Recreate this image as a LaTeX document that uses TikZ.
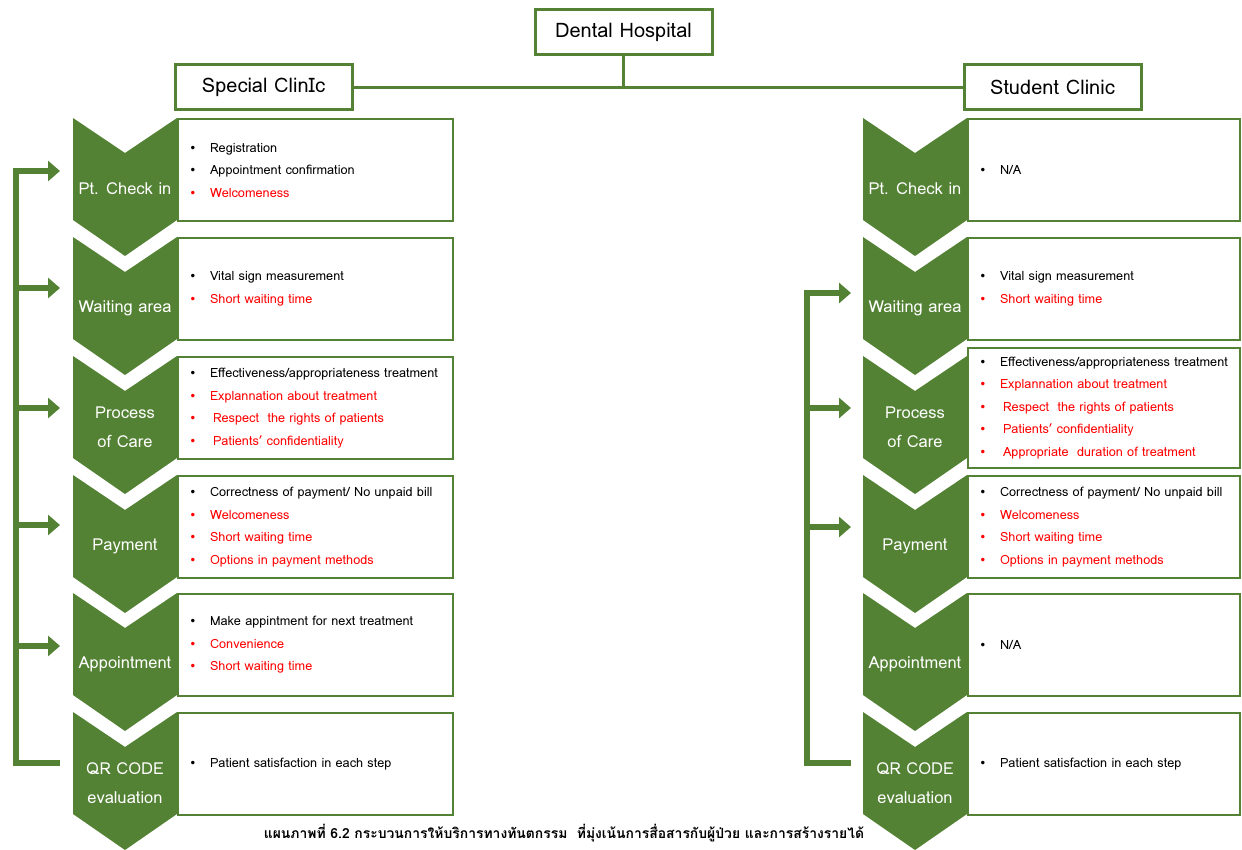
\documentclass[tikz,border=0pt]{standalone}
\usepackage{fontspec}
\setmainfont{Loma}
\newfontfamily\thaifont[Script=Thai]{Loma}
\newfontfamily\symfont{DejaVu Sans}
\usetikzlibrary{arrows.meta}
\definecolor{leaf}{RGB}{84,130,53}
\newcommand\bul{\makebox[8pt]{\symfont\fontsize{12}{12}\selectfont •}\hspace{13pt}}
\newcommand\kk[1]{\bul#1}
\newcommand\rr[1]{{\color{red}\bul#1}}
\begin{document}
\begin{tikzpicture}[x=1pt,y=-1pt, line join=miter,
	clab/.style={text=white, font=\fontsize{16.5}{29}\selectfont, align=center, inner sep=0pt},
	topbox/.style={draw=leaf, line width=3pt, fill=white, minimum width=177pt, minimum height=45pt, inner sep=0pt, font=\fontsize{20}{22}\selectfont},
	listbox/.style={draw=leaf, line width=2pt, anchor=north west, minimum width=275pt, minimum height=102pt, text width=253pt, inner xsep=11pt, inner ysep=0pt, align=left, font=\fontsize{12.7}{22.5}\selectfont},
	link/.style={draw=leaf, line width=3pt},
	loopback/.style={draw=leaf, line width=6pt, -{Triangle[length=12pt,width=20pt]}}]
	\useasboundingbox (0,0) rectangle (1242,850);
	% top level
	\node[topbox] (dh) at (623.5,32.5) {Dental Hospital};
	\node[topbox] (sp) at (263.5,87.5) {Special ClinIc};
	\node[topbox] (st) at (1052.5,87.5) {Student Clinic};
	\draw[link] (sp) -- (st);
	\draw[link] (dh) -- (dh |- sp);
	% chevrons
	\foreach \x/\s in {73/l,863/r}{
		\foreach \t/\lab/\nm in {118/{Pt. Check in}/ck, 237/{Waiting area}/wa, 356/{Process\\of Care}/pc, 475/Payment/pay, 593/Appointment/app, 712/{QR CODE\\evaluation}/qr}{
			\fill[leaf] (\x,\t) -- (\x+52,\t+35) -- (\x+104,\t) -- (\x+104,\t+102) -- (\x+52,\t+138) -- (\x,\t+102) -- cycle;
			\node[clab] (\s\nm) at (\x+52,\t+71) {\lab};
		}
	}
	% special clinic
	\node[listbox] (lb1) at (177,118) {\kk{Registration}\\ \kk{Appointment confirmation}\\ \rr{Welcomeness}};
	\node[listbox] (lb2) at (177,237) {\kk{Vital sign measurement}\\ \rr{Short waiting time}};
	\node[listbox] (lb3) at (177,356) {\kk{Effectiveness/appropriateness treatment}\\ \rr{Explannation about treatment}\\ \rr{\hspace{3pt}Respect\ \ the rights of patients}\\ \rr{\hspace{3pt}Patients' confidentiality}};
	\node[listbox] (lb4) at (177,475) {\kk{Correctness of payment/ No unpaid bill}\\ \rr{Welcomeness}\\ \rr{Short waiting time}\\ \rr{Options in payment methods}};
	\node[listbox] (lb5) at (177,593) {\kk{Make appintment for next treatment}\\ \rr{Convenience}\\ \rr{Short waiting time}};
	\node[listbox] (lb6) at (177,712) {\kk{Patient satisfaction in each step}};
	% student clinic
	\begin{scope}[listbox/.append style={minimum width=272pt, text width=250pt}]
	\node[listbox] (rb1) at (967,118) {\kk{N/A}};
	\node[listbox] (rb2) at (967,237) {\kk{Vital sign measurement}\\ \rr{Short waiting time}};
	\node[listbox, minimum height=120pt] (rb3) at (967,347) {\kk{Effectiveness/appropriateness treatment}\\ \rr{Explannation about treatment}\\ \rr{\hspace{3pt}Respect\ \ the rights of patients}\\ \rr{\hspace{3pt}Patients' confidentiality}\\ \rr{\hspace{3pt}Appropriate\ \ duration of treatment}};
	\node[listbox] (rb4) at (967,475) {\kk{Correctness of payment/ No unpaid bill}\\ \rr{Welcomeness}\\ \rr{Short waiting time}\\ \rr{Options in payment methods}};
	\node[listbox] (rb5) at (967,593) {\kk{N/A}};
	\node[listbox] (rb6) at (967,712) {\kk{Patient satisfaction in each step}};
	\end{scope}
	% loop arrows
	\coordinate (lt1) at (60,171); \coordinate (lt2) at (60,288);
	\coordinate (lt3) at (60,408); \coordinate (lt4) at (60,525);
	\coordinate (lt5) at (60,646);
	\coordinate (lfoot) at (60,763); \coordinate (lrail) at (16,763);
	\draw[loopback] (lfoot) -- (lrail) |- (lt1);
	\foreach \i in {2,...,5} \draw[loopback] (lrail |- lt\i) -- (lt\i);
	\coordinate (rt2) at (851,293); \coordinate (rt3) at (851,408);
	\coordinate (rt4) at (851,527);
	\coordinate (rfoot) at (851,763); \coordinate (rrail) at (807,763);
	\draw[loopback] (rfoot) -- (rrail) |- (rt2);
	\foreach \i in {3,4} \draw[loopback] (rrail |- rt\i) -- (rt\i);
	% caption
	\node[font=\thaifont\bfseries\fontsize{13.9}{17}\selectfont] (cap) at (564,833) {แผนภาพที่ 6.2 กระบวนการให้บริการทางทันตกรรม\ \ ที่มุ่งเน้นการสื่อสารกับผู้ป่วย และการสร้างรายได้};
\end{tikzpicture}
\end{document}
